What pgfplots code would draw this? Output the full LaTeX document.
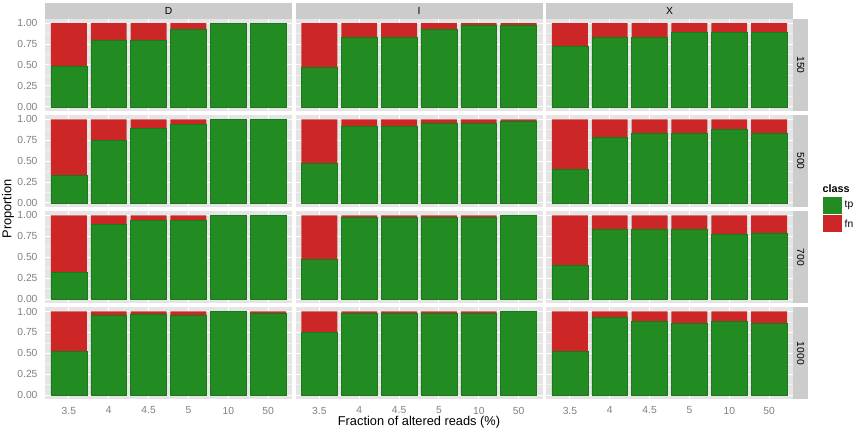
\documentclass[border=0pt]{standalone}
\usepackage{pgfplots}
\pgfplotsset{compat=1.18}
\usepackage{fontspec}
\setmainfont{Liberation Sans}
\definecolor{tpgreen}{HTML}{228B22}
\definecolor{tpedge}{HTML}{1A7A1A}
\definecolor{fnred}{HTML}{CD2626}
\definecolor{panelbg}{HTML}{E5E5E5}
\definecolor{gridminor}{HTML}{F2F2F2}
\definecolor{stripbg}{HTML}{CCCCCC}
\definecolor{grey50}{HTML}{7F7F7F}
\newcommand{\tickfont}{\fontsize{10.3}{12}\selectfont}
\pgfplotsset{
  base/.style={
    scale only axis, width=247pt, height=92pt, anchor=north west,
    xmin=0.4, xmax=6.6, ymin=-0.05, ymax=1.05,
    ybar stacked, bar width=0.9,
    axis background/.style={fill=panelbg},
    axis line style={draw=none},
    xtick={1,2,3,4,5,6},
    ytick={0,0.25,0.5,0.75,1},
    minor ytick={0.125,0.375,0.625,0.875},
    xmajorgrids, ymajorgrids, yminorgrids,
    major grid style={white, line width=1pt},
    minor grid style={gridminor, line width=0.5pt},
    tick align=outside, tick pos=left,
    major tick length=4pt, minor tick length=0pt,
    tick style={grey50, line width=0.6pt},
    xtick style={draw=none}, ytick style={draw=none},
    xticklabels={}, yticklabels={},
    ticklabel style={font=\tickfont, text=grey50},
  },
  leftcol/.style={ytick style={grey50, line width=0.6pt},
    yticklabels={0.00,0.25,0.50,0.75,1.00}},
  bottomrow/.style={xtick style={grey50, line width=0.6pt},
    xticklabels={3.5,4,4.5,5,10,50}},
}
\newcommand{\panel}[5]{%
\begin{axis}[base, at={(#1pt,#2pt)}, #5]
\addplot[fill=tpgreen, draw=tpedge, line width=0.5pt] coordinates {#3};
\addplot[fill=fnred, draw=none] coordinates {#4};
\end{axis}}
\begin{document}
\begin{tikzpicture}
\useasboundingbox (0,0) rectangle (856pt,433pt);
% ---- column D ----
\panel{45}{414}{(1,0.49) (2,0.80) (3,0.80) (4,0.93) (5,1.00) (6,1.00)}{(1,0.51) (2,0.20) (3,0.20) (4,0.07) (5,0) (6,0)}{leftcol}
\panel{45}{317.9}{(1,0.33) (2,0.75) (3,0.89) (4,0.94) (5,1.00) (6,1.00)}{(1,0.67) (2,0.25) (3,0.11) (4,0.06) (5,0) (6,0)}{leftcol}
\panel{45}{221.8}{(1,0.32) (2,0.89) (3,0.94) (4,0.94) (5,1.00) (6,1.00)}{(1,0.68) (2,0.11) (3,0.06) (4,0.06) (5,0) (6,0)}{leftcol}
\panel{45}{125.7}{(1,0.52) (2,0.95) (3,0.97) (4,0.95) (5,1.00) (6,0.98)}{(1,0.48) (2,0.05) (3,0.03) (4,0.05) (5,0) (6,0.02)}{leftcol,bottomrow}
% ---- column I ----
\panel{295.5}{414}{(1,0.47) (2,0.83) (3,0.83) (4,0.93) (5,0.98) (6,0.98)}{(1,0.53) (2,0.17) (3,0.17) (4,0.07) (5,0.02) (6,0.02)}{}
\panel{295.5}{317.9}{(1,0.47) (2,0.92) (3,0.92) (4,0.95) (5,0.95) (6,0.98)}{(1,0.53) (2,0.08) (3,0.08) (4,0.05) (5,0.05) (6,0.02)}{}
\panel{295.5}{221.8}{(1,0.47) (2,0.98) (3,0.98) (4,0.98) (5,0.98) (6,1.00)}{(1,0.53) (2,0.02) (3,0.02) (4,0.02) (5,0.02) (6,0)}{}
\panel{295.5}{125.7}{(1,0.75) (2,0.98) (3,0.98) (4,0.98) (5,0.98) (6,1.00)}{(1,0.25) (2,0.02) (3,0.02) (4,0.02) (5,0.02) (6,0)}{bottomrow}
% ---- column X ----
\panel{546}{414}{(1,0.73) (2,0.83) (3,0.83) (4,0.89) (5,0.89) (6,0.89)}{(1,0.27) (2,0.17) (3,0.17) (4,0.11) (5,0.11) (6,0.11)}{}
\panel{546}{317.9}{(1,0.40) (2,0.78) (3,0.83) (4,0.83) (5,0.88) (6,0.83)}{(1,0.60) (2,0.22) (3,0.17) (4,0.17) (5,0.12) (6,0.17)}{}
\panel{546}{221.8}{(1,0.40) (2,0.83) (3,0.83) (4,0.83) (5,0.78) (6,0.79)}{(1,0.60) (2,0.17) (3,0.17) (4,0.17) (5,0.22) (6,0.21)}{}
\panel{546}{125.7}{(1,0.52) (2,0.93) (3,0.88) (4,0.86) (5,0.88) (6,0.86)}{(1,0.48) (2,0.07) (3,0.12) (4,0.14) (5,0.12) (6,0.14)}{bottomrow}
% ---- strips ----
\foreach \L/\t in {45/D, 295.5/I, 546/X}{
  \fill[stripbg] (\L pt,414pt) rectangle ({(\L+247)*1pt},429.7pt);
  \node[font=\tickfont] at ({(\L+123.5)*1pt},421.85pt) {\t};
}
\foreach \T/\t in {414/150, 317.9/500, 221.8/700, 125.7/1000}{
  \fill[stripbg] (793pt,\T pt) rectangle (808.3pt,{(\T-92)*1pt});
  \node[font=\tickfont, rotate=-90] at (800.65pt,{(\T-46)*1pt}) {\t};
}
% ---- axis titles ----
\node[font=\fontsize{12.8}{15}\selectfont] at (419pt,11pt) {Fraction of altered reads (\%)};
\node[font=\fontsize{12.8}{15}\selectfont, rotate=90] at (8pt,224pt) {Proportion};
% ---- legend ----
\node[font=\fontsize{10.8}{13}\selectfont\bfseries, anchor=west, inner sep=0pt] at (822.5pt,244pt) {class};
\fill[tpgreen] (823.3pt,236.3pt) rectangle (841.7pt,219pt);
\fill[fnred] (823.3pt,218pt) rectangle (841.7pt,200.5pt);
\node[font=\tickfont, anchor=west, inner sep=0pt] at (844.5pt,227.6pt) {tp};
\node[font=\tickfont, anchor=west, inner sep=0pt] at (844.5pt,209.2pt) {fn};
\end{tikzpicture}
\end{document}
